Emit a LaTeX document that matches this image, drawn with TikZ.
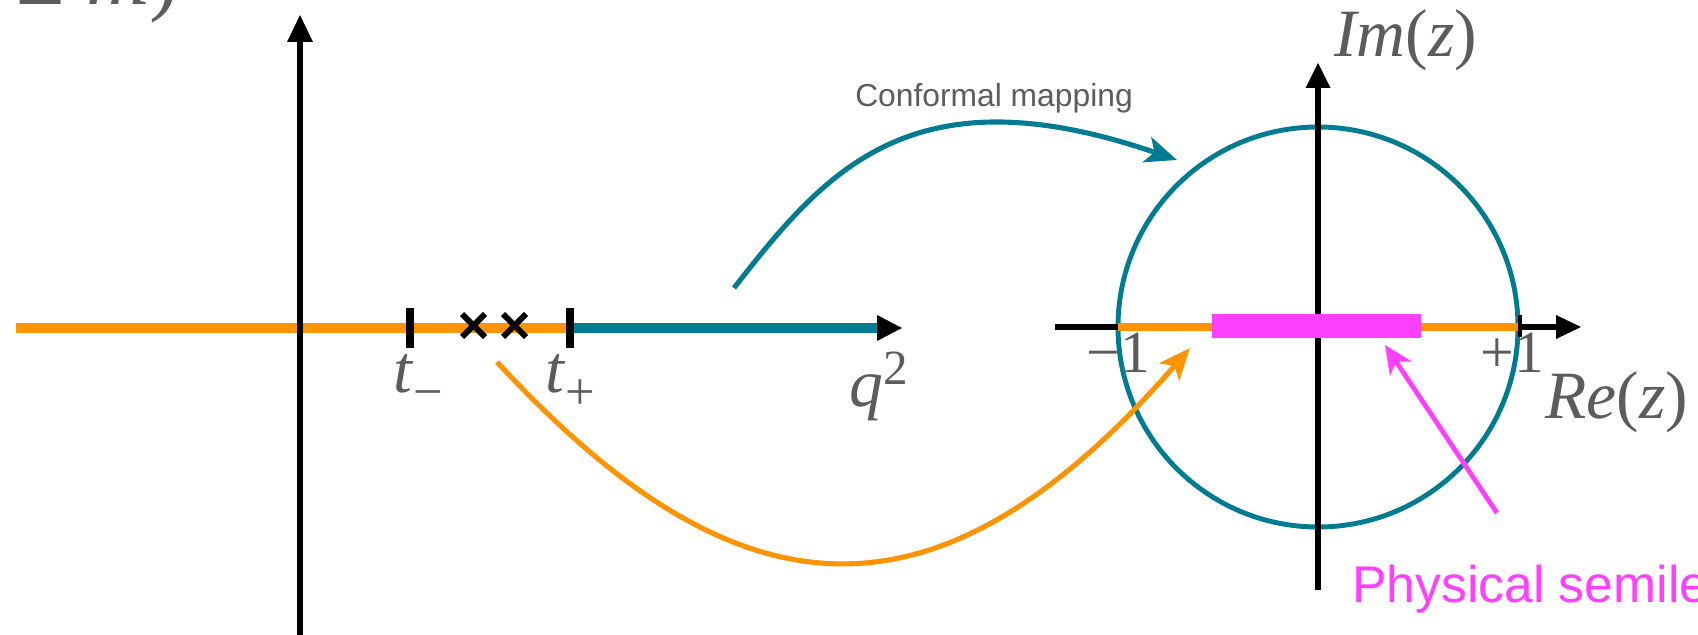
\documentclass[tikz,border=0pt]{standalone}
\usepackage{fontspec}
\setmainfont{Liberation Serif}
\newfontfamily\sansf{Liberation Sans}
\usetikzlibrary{arrows.meta}
\definecolor{tealc}{RGB}{0,124,146}
\definecolor{orng}{RGB}{255,147,0}
\definecolor{mag}{RGB}{255,64,255}
\definecolor{lbl}{RGB}{92,92,92}
\tikzset{
  axisline/.style={line width=3.2pt, black},
  tiptri/.style={fill=black},
  bandline/.style={line width=6.2pt},
  tickline/.style={line width=4.6pt, black},
  crossline/.style={line width=3.4pt, black},
  curvearrow/.style={line width=2.9pt, -{Stealth[length=18pt,width=15pt,inset=4.5pt]}},
  lab/.style={text=lbl, inner sep=0pt, anchor=base west, font=\fontsize{38.5}{40}\selectfont},
  numlab/.style={text=lbl, inner sep=0pt, anchor=base west, font=\fontsize{34}{36}\selectfont},
}
\newcommand{\subsc}[1]{\raisebox{-10pt}{\fontsize{30}{30}\selectfont #1}}
\begin{document}
\begin{tikzpicture}[x=0.02cm,y=-0.02cm]
\useasboundingbox (0,0) rectangle (1698,635);
\clip (0,0) rectangle (1698,635);

% ---------- left plane ----------
\coordinate (lhL) at (16,328);
\coordinate (tm) at (410,328);
\coordinate (tp) at (570,328);
\coordinate (lhE) at (878,328);
\draw[bandline, orng] (lhL) -- (566,328);
\draw[bandline, tealc] (574,328) -- (lhE);
\fill[tiptri] (877,315) -- (902,328) -- (877,341) -- cycle;
\draw[axisline, line width=3.4pt] (300,640) -- (300,41);
\fill[tiptri] (287,42) -- (300,15) -- (313,42) -- cycle;
\draw[tickline] (410,308) -- (410,348);
\draw[tickline] (570,308) -- (570,348);
\draw[crossline] (462,314) -- (485,337) (462,337) -- (485,314);
\draw[crossline] (503,314) -- (526,337) (503,337) -- (526,314);

\node[lab] (tmL) at (393,392) {\textit{t}\subsc{−}};
\node[lab] (tpL) at (545,392) {\textit{t}\subsc{+}};
\node[lab] (q2) at (849,406) {\textit{q}\raisebox{12pt}{\fontsize{28}{28}\selectfont 2}};
\node[lab, font=\fontsize{50}{52}\selectfont] (cut) at (16,5) {± \textit{m})};

% ---------- right plane ----------
\coordinate (zc) at (1318,327);
\draw[line width=2.8pt, tealc] (zc) circle[radius=200];
\draw[axisline, line width=3pt] (1055,327) -- (1557,327);
\fill[tiptri] (1556,315) -- (1581,327) -- (1556,339) -- cycle;
\draw[axisline, line width=3pt] (1318,590) -- (1318,87);
\fill[tiptri] (1305.5,88) -- (1318,63) -- (1330.5,88) -- cycle;
\draw[line width=5pt, orng] (1118,327) -- (1518,327);
\fill[mag] (1212,314) rectangle (1421,338);
\draw[line width=2.6pt, black] (1520,315) -- (1520,337);

\node[lab] (imz) at (1334,57) {\textit{Im}(\textit{z})};
\node[lab] (rez) at (1545,418) {\textit{Re}(\textit{z})};
\node[numlab] (m1) at (1086,372) {−1};
\node[numlab] (p1) at (1480,372) {+1};

% ---------- mapping arrows ----------
\coordinate (tealS) at (734,288);
\coordinate (tealE) at (1177,160);
\draw[curvearrow, tealc] (tealS) .. controls (826,170) and (912,69) .. (tealE);
\node[text=lbl, inner sep=0pt, anchor=base, font=\sansf\fontsize{18.1}{20}\selectfont] (cm) at (994,107) {Conformal mapping};

\coordinate (orS) at (497,362);
\coordinate (orE) at (1190,348);
\draw[curvearrow, orng] (orS) .. controls (730,614) and (930,647) .. (orE);

\coordinate (mgS) at (1497,513);
\coordinate (mgE) at (1385,345);
\draw[line width=2.7pt, mag, -{Stealth[length=16pt,width=14.5pt,inset=4.5pt]}] (mgS) -- (mgE);
\node[text=mag, inner sep=0pt, anchor=base west, font=\sansf\fontsize{29.4}{31}\selectfont] (phys) at (1352,602) {Physical semileptonic};
\end{tikzpicture}
\end{document}
